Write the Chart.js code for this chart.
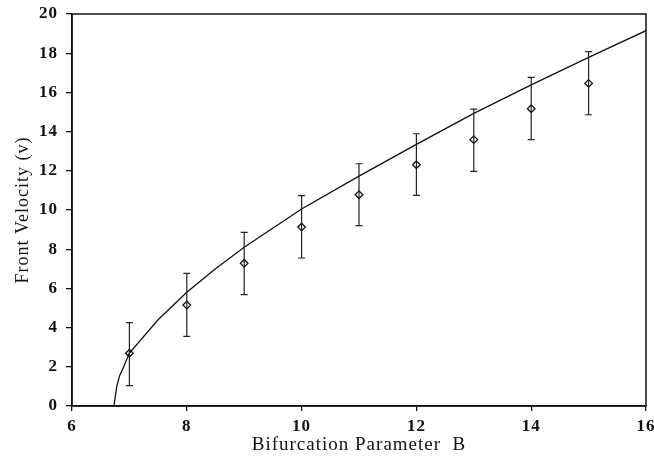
<!DOCTYPE html>
<html>
<head>
<meta charset="utf-8">
<script src="https://cdn.jsdelivr.net/npm/chart.js@4/dist/chart.umd.min.js"></script>
<style>
  html, body { margin: 0; padding: 0; background: #fff; }
  #wrap { width: 654px; height: 457px; }
</style>
</head>
<body>
<div id="wrap"><canvas id="chart" width="654" height="457"></canvas></div>
<script>
// Measured data (diamonds) with error bars
const bValues = [7, 8, 9, 10, 11, 12, 13, 14, 15];
const velocity = [2.69, 5.15, 7.28, 9.13, 10.78, 12.31, 13.59, 15.17, 16.46];
const errLow = [1.04, 3.55, 5.68, 7.55, 9.2, 10.75, 11.97, 13.59, 14.86];
const errHigh = [4.25, 6.77, 8.86, 10.73, 12.36, 13.89, 15.15, 16.77, 18.08];

// Theoretical curve
const curveB = [6.73, 6.78, 6.83, 6.9, 7, 7.5, 8, 8.5, 9, 10, 11, 12, 13, 14, 15, 16];
const curveV = [0, 1.0, 1.55, 2.0, 2.7, 4.4, 5.8, 7.0, 8.1, 10.05, 11.73, 13.35, 14.93, 16.38, 17.79, 19.15];

const xTicks = [6, 8, 10, 12, 14, 16];
const yTicks = [0, 2, 4, 6, 8, 10, 12, 14, 16, 18, 20];

const serif = '"Liberation Serif", "DejaVu Serif", serif';

// slightly wider letter spacing like the scanned figure
const spacing = {
    id: 'spacing',
    beforeDraw(chart) { chart.ctx.letterSpacing = '1px'; }
};

// Draws a frame round the plot and the error bars
const errorBars = {
    id: 'errorBars',
    afterDatasetsDraw(chart) {
        const ctx = chart.ctx;
        const xs = chart.scales.x, ys = chart.scales.y;
        ctx.save();
        ctx.strokeStyle = '#222';
        ctx.lineWidth = 1.2;
        bValues.forEach((b, i) => {
            const px = xs.getPixelForValue(b);
            const top = ys.getPixelForValue(errHigh[i]);
            const bot = ys.getPixelForValue(errLow[i]);
            ctx.beginPath();
            ctx.moveTo(px, top); ctx.lineTo(px, bot);
            ctx.moveTo(px - 3.5, top); ctx.lineTo(px + 3.5, top);
            ctx.moveTo(px - 3.5, bot); ctx.lineTo(px + 3.5, bot);
            ctx.stroke();
        });
        const a = chart.chartArea;
        ctx.strokeStyle = '#111';
        ctx.lineWidth = 1.5;
        ctx.strokeRect(a.left, a.top, a.right - a.left, a.bottom - a.top);
        ctx.restore();
    }
};

new Chart(document.getElementById('chart'), {
    type: 'scatter',
    data: {
        datasets: [{
            type: 'line',
            data: curveB.map((b, i) => ({ x: b, y: curveV[i] })),
            borderColor: '#111',
            borderWidth: 1.3,
            pointRadius: 0,
            fill: false,
            tension: 0,
        }, {
            data: bValues.map((b, i) => ({ x: b, y: velocity[i] })),
            pointStyle: 'rectRot',
            pointRadius: 3.8,
            backgroundColor: '#fff',
            borderColor: '#111',
            borderWidth: 1.3,
        }],
    },
    options: {
        responsive: false,
        animation: false,
        layout: { padding: { top: 14, right: 8, left: 0, bottom: 0 } },
        plugins: { legend: { display: false }, tooltip: { enabled: false } },
        scales: {
            x: {
                type: 'linear',
                min: 6, max: 16,
                afterBuildTicks: s => { s.ticks = xTicks.map(v => ({ value: v })); },
                afterFit: s => { s.height = 51; s.paddingLeft = 0; s.paddingRight = 0; },
                grid: { drawOnChartArea: false, drawTicks: true, tickLength: 5, color: '#111', lineWidth: 1.3 },
                border: { display: true, color: '#111', width: 1.5 },
                ticks: { color: '#111', font: { family: serif, size: 17, weight: 'bold' }, padding: 5, maxRotation: 0 },
                title: { display: true, text: 'Bifurcation Parameter  B', color: '#111', font: { family: serif, size: 19 }, padding: { top: 0, bottom: 1 } },
            },
            y: {
                min: 0, max: 20,
                afterBuildTicks: s => { s.ticks = yTicks.map(v => ({ value: v })); },
                afterFit: s => { s.width = 72; s.paddingTop = 0; s.paddingBottom = 0; },
                grid: { drawOnChartArea: false, drawTicks: true, tickLength: 6, color: '#111', lineWidth: 1.3 },
                border: { display: true, color: '#111', width: 1.5 },
                ticks: { color: '#111', font: { family: serif, size: 17, weight: 'bold' }, padding: 8 },
                title: { display: true, text: 'Front Velocity (v)', color: '#111', font: { family: serif, size: 18 }, padding: { top: 12, bottom: 4 } },
            },
        },
    },
    plugins: [spacing, errorBars],
});
</script>
</body>
</html>
